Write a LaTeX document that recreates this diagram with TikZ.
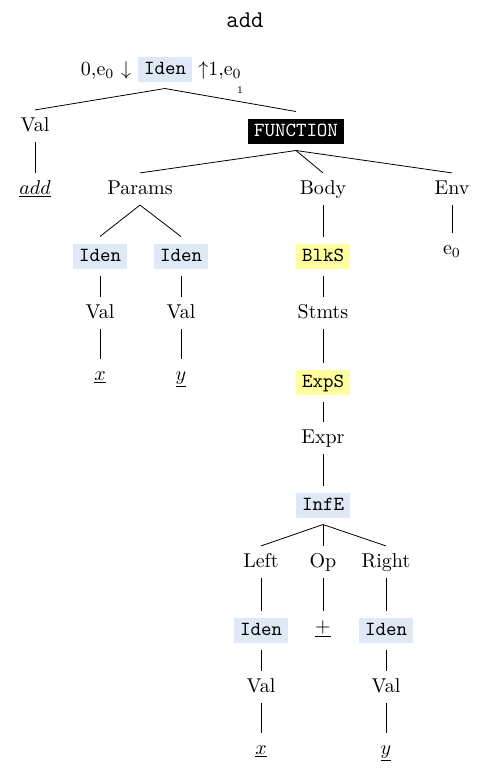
\documentclass[tikz,border=0pt]{standalone}
\definecolor{idenblue}{RGB}{222,233,245}
\definecolor{stmtyellow}{RGB}{255,255,160}
\begin{document}
\begin{tikzpicture}[x=0.5pt,y=-0.5pt,
    lbl/.style={text height=7pt,text depth=2pt},
    tbox/.style={font=\ttfamily,text height=6.2pt,text depth=0.3pt,inner ysep=3pt,inner xsep=3.2pt,outer sep=3.5pt},
    idenbox/.style={tbox,fill=idenblue},
    stmtbox/.style={tbox,fill=stmtyellow},
    funbox/.style={tbox,fill=black,text=white,inner xsep=2.8pt}]

    \useasboundingbox (0,0) rectangle (488,778);

    %titulo
    \node[font=\large\ttfamily] (title) at (245,20) {add};

    %raiz
    \node[idenbox] (root) at (165,69) {Iden};
    \node (rootin) at (106,70) {0,e$_0$ $\downarrow$};
    \node (rootout) at (220,70) {$\uparrow$1,e$_0$};
    \node[font=\tiny] (rootidx) at (240,90) {1};

    \node[lbl] (val0) at (35,126) {Val};
    \node[lbl] (add) at (35,189) {$\underline{add}$};
    \node[funbox] (fun) at (296,131) {FUNCTION};

    %FUNCTION
    \node[lbl] (params) at (140,189) {Params};
    \node[lbl] (body) at (323,189) {Body};
    \node[lbl] (env) at (452,189) {Env};
    \node[lbl] (e0) at (452,249) {e$_0$};

    %Params
    \node[idenbox] (pa) at (100,256) {Iden};
    \node[idenbox] (pb) at (181,256) {Iden};
    \node[lbl] (vala) at (100,313) {Val};
    \node[lbl] (valb) at (181,313) {Val};
    \node[lbl] (xa) at (100,375) {$\underline{x}$};
    \node[lbl] (yb) at (181,375) {$\underline{y}$};

    %Body
    \node[stmtbox] (blk) at (323,256) {BlkS};
    \node[lbl] (stmts) at (323,313) {Stmts};
    \node[stmtbox] (exps) at (323,382) {ExpS};
    \node[lbl] (expr) at (323,438) {Expr};
    \node[idenbox] (infe) at (323,505) {InfE};
    \node[lbl] (left) at (261,562) {Left};
    \node[lbl] (op) at (323,562) {Op};
    \node[lbl] (right) at (386,562) {Right};
    \node[idenbox] (il) at (261,630) {Iden};
    \node[lbl] (plus) at (323,627) {$\underline{+}$};
    \node[idenbox] (ir) at (386,630) {Iden};
    \node[lbl] (vl) at (261,687) {Val};
    \node[lbl] (vr) at (386,687) {Val};
    \node[lbl] (xl) at (261,749) {$\underline{x}$};
    \node[lbl] (yr) at (386,749) {$\underline{y}$};

    %Aristas
    \foreach \p/\c in {root/val0,root/fun,val0/add,fun/params,fun/body,fun/env,env/e0,
        params/pa,params/pb,pa/vala,pb/valb,vala/xa,valb/yb,
        body/blk,blk/stmts,stmts/exps,exps/expr,expr/infe,
        infe/left,infe/op,infe/right,left/il,op/plus,right/ir,il/vl,ir/vr,vl/xl,vr/yr}{
        \draw (\p.south) -- (\c.north);
    }

\end{tikzpicture}
\end{document}
